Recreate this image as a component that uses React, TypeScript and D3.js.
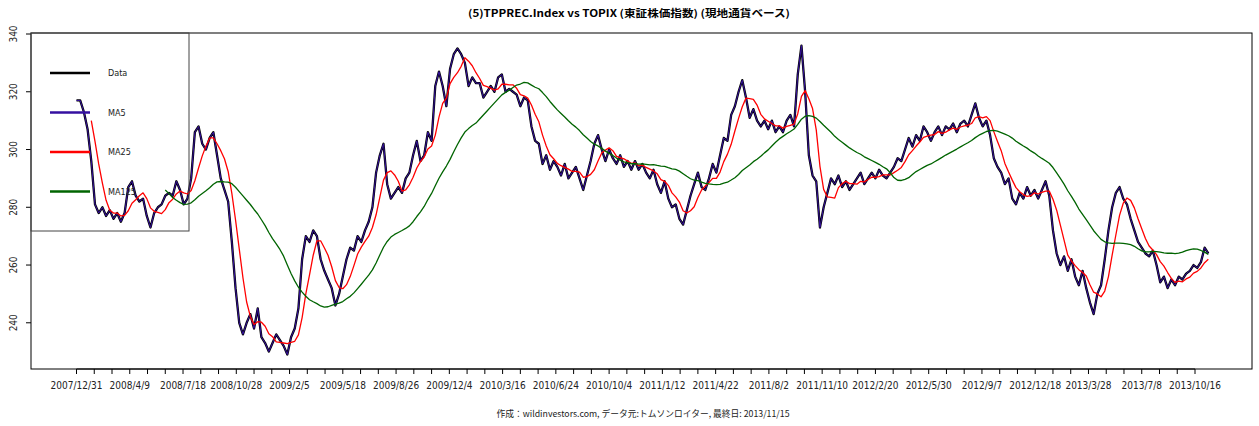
import React from "react";
import * as d3 from "d3";

const W = 1259;
const H = 426;

const STEP = 5;
const dataValues = [
  317, 317, 313, 307, 296, 281, 278, 280, 277, 279,
  276, 278, 275, 278, 287, 289, 284, 282, 283, 277,
  273, 278, 280, 281, 284, 285, 284, 289, 286, 281,
  283, 290, 306, 308, 302, 300, 304, 306, 298, 290,
  286, 282, 268, 252, 240, 236, 240, 243, 238, 245,
  235, 233, 230, 233, 236, 234, 232, 229, 235, 238,
  245, 262, 270, 268, 272, 270, 262, 258, 255, 252,
  246, 250, 256, 262, 266, 265, 270, 268, 272, 275,
  280, 292, 298, 302, 288, 283, 285, 287, 285, 290,
  292, 298, 303, 296, 298, 306, 303, 322, 327, 322,
  315, 328, 333, 335, 333, 330, 322, 325, 323, 323,
  318, 320, 322, 320, 325, 326, 320, 321, 320, 319,
  315, 318, 317, 308, 303, 302, 295, 298, 293, 296,
  294, 291, 295, 290, 292, 294, 290, 286, 291, 296,
  302, 305, 300, 296, 300, 297, 295, 298, 294, 296,
  293, 296, 293, 295, 292, 290, 293, 288, 285, 289,
  283, 280, 281, 276, 274, 279, 284, 288, 292, 287,
  286, 290, 295, 292, 298, 304, 303, 312, 315, 320,
  324, 318, 311, 314, 310, 308, 310, 307, 310, 306,
  308, 306, 310, 312, 308, 326, 336, 320, 298, 291,
  289, 273, 280, 285, 290, 288, 291, 287, 289, 286,
  288, 290, 292, 288, 290, 292, 290, 293, 291, 290,
  292, 294, 297, 296, 300, 304, 301, 305, 303, 308,
  306, 303, 306, 308, 305, 308, 307, 309, 306, 309,
  310, 308, 312, 316, 311, 308, 310, 305, 297, 294,
  292, 288, 290, 283, 281, 285, 283, 287, 284, 286,
  283, 286, 289, 284, 272, 264, 260, 263, 258, 262,
  256, 253, 258, 252, 247, 243, 250, 253, 262, 272,
  280, 285, 287, 283, 281, 276, 272, 268, 266, 264,
  263, 265, 260, 254, 256, 252, 255, 253, 256, 255,
  257, 258, 260, 259, 261, 266, 264,
];

const xTickLabels = [
  "2007/12/31", "2008/4/9", "2008/7/18", "2008/10/28", "2009/2/5", "2009/5/18",
  "2009/8/26", "2009/12/4", "2010/3/16", "2010/6/24", "2010/10/4", "2011/1/12",
  "2011/4/22", "2011/8/2", "2011/11/10", "2012/2/20", "2012/5/30", "2012/9/7",
  "2012/12/18", "2013/3/28", "2013/7/8", "2013/10/16",
];
const LABEL_EVERY = 72; // trading days between labels
const TICK_EVERY = 24; // trading days between ticks
const yTicks = [240, 260, 280, 300, 320, 340];

const seriesNames = ["Data", "MA5", "MA25", "MA125"];
const maWindows = [5, 25, 125];
const seriesColors = ["#000000", "#3510a0", "#ff0000", "#006400"];

const titleText = "(5)TPPREC.Index vs TOPIX (東証株価指数) (現地通貨ベース)";
const footerText = "作成：wildinvestors.com, データ元:トムソンロイター, 最終日: 2013/11/15";

type Pt = { i: number; v: number | null };

function movingAverage(vals: number[], days: number): Pt[] {
  const n = Math.max(1, Math.round(days / STEP));
  return vals.map((_, k) => ({
    i: k * STEP,
    v: k < n - 1 ? null : (d3.mean(vals.slice(k - n + 1, k + 1)) as number),
  }));
}

const FONT = "'Liberation Sans Narrow', 'DejaVu Sans Condensed', 'Arial Narrow', sans-serif";
const CJK = "'Noto Sans CJK JP', 'Noto Sans', sans-serif";

export default function App() {
  const left = 31, right = 1252, top = 33, bottom = 369;
  const lastLabelIdx = (xTickLabels.length - 1) * LABEL_EVERY;
  const x = d3.scaleLinear().domain([0, lastLabelIdx]).range([76.5, 1195]);
  const y = d3.scaleLinear().domain([224, 340.35]).range([bottom, top]);

  const dataPts: Pt[] = dataValues.map((v, k) => ({ i: k * STEP, v }));
  const series: Pt[][] = [dataPts, ...maWindows.map((w) => movingAverage(dataValues, w))];

  const line = d3
    .line<Pt>()
    .defined((d) => d.v !== null)
    .x((d) => x(d.i))
    .y((d) => y(d.v as number));

  const widths = [2.3, 1.0, 1.3, 1.3];
  const ticks = d3.range(0, lastLabelIdx + 1, TICK_EVERY);

  const legendYs = [73, 112.5, 152, 191.5];

  return (
    <svg width={W} height={H} style={{ display: "block", position: "absolute", left: 0, top: 0 }}>
      <rect x={0} y={0} width={W} height={H} fill="#ffffff" />
      <text
        x={629}
        y={17}
        textAnchor="middle"
        fontFamily={CJK}
        fontWeight="bold"
        fontSize={10}
        textLength={322}
        lengthAdjust="spacingAndGlyphs"
      >
        {titleText}
      </text>

      {/* series */}
      {series.map((s, si) => (
        <path
          key={seriesNames[si]}
          d={line(s) || ""}
          fill="none"
          stroke={seriesColors[si]}
          strokeWidth={widths[si]}
          strokeLinejoin="round"
        />
      ))}

      {/* plot frame */}
      <rect x={left} y={top} width={right - left} height={bottom - top} fill="none" stroke="#000" strokeWidth={1} />

      {/* y axis */}
      {yTicks.map((t) => (
        <g key={t}>
          <line x1={left - 5} x2={left} y1={y(t)} y2={y(t)} stroke="#000" />
          <text
            transform={`translate(17,${y(t)}) rotate(-90)`}
            textAnchor="middle"
            fontFamily={FONT}
            fontSize={10}
            fill="#222"
          >
            {t}
          </text>
        </g>
      ))}

      {/* x axis */}
      <line x1={x(0)} x2={x(lastLabelIdx)} y1={bottom} y2={bottom} stroke="#000" strokeWidth={1.2} />
      {ticks.map((t) => (
        <line key={t} x1={x(t)} x2={x(t)} y1={bottom} y2={bottom + 5} stroke="#000" />
      ))}
      {xTickLabels.map((lab, li) => (
        <text
          key={lab}
          x={x(li * LABEL_EVERY)}
          y={389}
          textAnchor="middle"
          fontFamily={FONT}
          fontSize={10}
          fill="#222"
        >
          {lab}
        </text>
      ))}

      {/* legend */}
      <rect x={left} y={top} width={158} height={198} fill="none" stroke="#444" strokeWidth={1} />
      {seriesNames.map((nm, si) => (
        <g key={nm}>
          <line x1={50} x2={90} y1={legendYs[si]} y2={legendYs[si]} stroke={seriesColors[si]} strokeWidth={2.6} />
          <text x={108} y={legendYs[si] + 3} fontFamily={FONT} fontSize={9} fill="#222">
            {nm}
          </text>
        </g>
      ))}

      <text
        x={643}
        y={417}
        textAnchor="middle"
        fontFamily={CJK}
        fontSize={9}
        fill="#222"
        textLength={293}
        lengthAdjust="spacingAndGlyphs"
      >
        {footerText}
      </text>
    </svg>
  );
}
